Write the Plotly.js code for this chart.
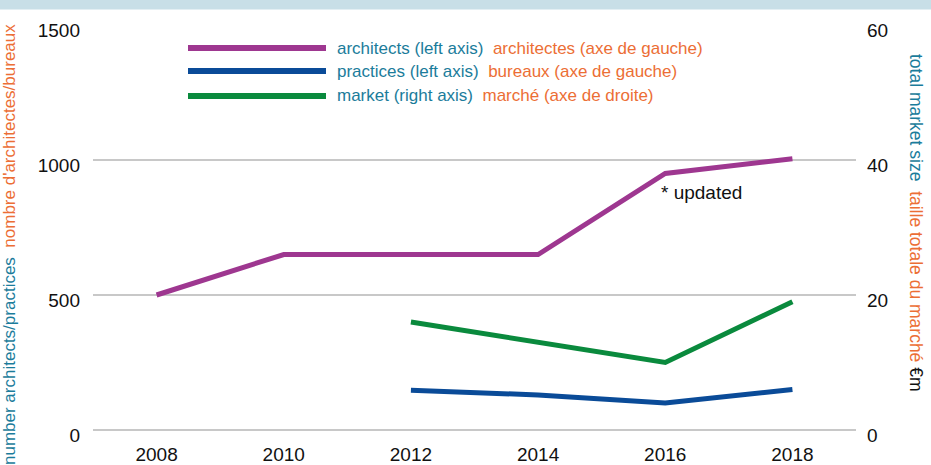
<!DOCTYPE html>
<html>
<head>
<meta charset="utf-8">
<script src="https://cdn.plot.ly/plotly-3.0.1.min.js"></script>
<style>html,body{margin:0;padding:0;background:#fff;}#chart{width:931px;height:465px;}</style>
</head>
<body>
<div id="chart"></div>
<script>
// ---- data ----
const years = [2008, 2010, 2012, 2014, 2016, 2018];
const architects = [500, 650, 650, 650, 950, 1005];
const practicesYears = [2012, 2014, 2016, 2018];
const practices = [147, 130, 100, 150];
const marketYears = [2012, 2014, 2016, 2018];
const market = [16, 13, 10, 19];
const leftTicks = [0, 500, 1000, 1500];
const rightTicks = [0, 20, 40, 60];
const xTicks = [2008, 2010, 2012, 2014, 2016, 2018];

const TEAL = '#1b7c9b', ORANGE = '#ec6e35';
const C_ARCH = '#9e3790', C_PRAC = '#0a4b98', C_MKT = '#0a8a3d';
const FONT = '"Liberation Sans", Arial, sans-serif';

// layout geometry (pixels)
const W = 931, H = 465, ML = 93, MR = 75, MT = 25, MB = 35;
const PW = W - ML - MR, PH = H - MT - MB;
const px = x => (x - ML) / PW;
const py = y => (H - MB - y) / PH;

const t = (s, c) => '<span style="color:' + c + '">' + s + '</span>';

const legendRows = [
  {color: C_ARCH, y: 48, en: 'architects (left axis)', fr: 'architectes (axe de gauche)'},
  {color: C_PRAC, y: 71, en: 'practices (left axis)', fr: 'bureaux (axe de gauche)'},
  {color: C_MKT, y: 96, en: 'market (right axis)', fr: 'marché (axe de droite)'}
];

const traces = [
  {x: years, y: architects, type: 'scatter', mode: 'lines', line: {color: C_ARCH, width: 5}, yaxis: 'y', hoverinfo: 'skip'},
  {x: practicesYears, y: practices, type: 'scatter', mode: 'lines', line: {color: C_PRAC, width: 5}, yaxis: 'y', hoverinfo: 'skip'},
  {x: marketYears, y: market, type: 'scatter', mode: 'lines', line: {color: C_MKT, width: 5}, yaxis: 'y2', hoverinfo: 'skip'}
];

const shapes = [
  {type: 'rect', xref: 'paper', yref: 'paper', x0: -0.2, x1: 1.2, y0: py(9.5), y1: py(-5), fillcolor: '#c8dfe7', line: {width: 0}, layer: 'above'}
];
const annotations = [];
legendRows.forEach(r => {
  shapes.push({type: 'line', xref: 'paper', yref: 'paper', x0: px(188), x1: px(326), y0: py(r.y), y1: py(r.y), line: {color: r.color, width: 6}});
  annotations.push({xref: 'paper', yref: 'paper', x: px(335), y: py(r.y), xanchor: 'left', yanchor: 'middle', showarrow: false,
    text: t(r.en, TEAL) + '&nbsp;&nbsp;' + t(r.fr, ORANGE), font: {family: FONT, size: 17}});
});
annotations.push({xref: 'paper', yref: 'paper', x: px(9), y: py(245), textangle: -90, showarrow: false, xanchor: 'center', yanchor: 'middle',
  text: t('number architects/practices', TEAL) + '&nbsp;&nbsp;' + t("nombre d'architectes/bureaux", ORANGE), font: {family: FONT, size: 17}});
annotations.push({xref: 'paper', yref: 'paper', x: px(916), y: py(223), textangle: 90, showarrow: false, xanchor: 'center', yanchor: 'middle',
  text: t('total market size', TEAL) + '&nbsp;&nbsp;' + t('taille totale du marché', ORANGE) + '&nbsp;' + t('€m', '#111'), font: {family: FONT, size: 17.5}});
annotations.push({xref: 'x', yref: 'y', x: 2016, y: 880, xanchor: 'left', yanchor: 'middle', xshift: -6, showarrow: false,
  text: '* updated', font: {family: FONT, size: 19, color: '#111'}});

const layout = {
  width: W, height: H,
  margin: {l: ML, r: MR, t: MT, b: MB, pad: 0},
  paper_bgcolor: '#fff', plot_bgcolor: '#fff',
  showlegend: false,
  font: {family: FONT, size: 19, color: '#111'},
  xaxis: {range: [2007, 2019], tickvals: xTicks, ticktext: xTicks.map(String), showgrid: false, zeroline: false, showline: false,
    ticks: '', automargin: false, ticklabelstandoff: 11, tickfont: {family: FONT, size: 19, color: '#111'}, fixedrange: true},
  yaxis: {range: [0, 1500], tickvals: leftTicks, ticktext: leftTicks.map(String), showgrid: true, gridcolor: '#c8c8c8', gridwidth: 2,
    zeroline: true, zerolinecolor: '#c8c8c8', zerolinewidth: 2, showline: false, ticks: '', automargin: false, ticklabelstandoff: 12,
    ticklabelshift: 5, tickfont: {family: FONT, size: 19, color: '#111'}, fixedrange: true},
  yaxis2: {range: [0, 60], tickvals: rightTicks, ticktext: rightTicks.map(String), overlaying: 'y', side: 'right', showgrid: false,
    zeroline: false, showline: false, ticks: '', automargin: false, ticklabelstandoff: 10, ticklabelshift: 5,
    tickfont: {family: FONT, size: 19, color: '#111'}, fixedrange: true},
  shapes: shapes,
  annotations: annotations
};

Plotly.newPlot('chart', traces, layout, {displayModeBar: false, staticPlot: true});
</script>
</body>
</html>
